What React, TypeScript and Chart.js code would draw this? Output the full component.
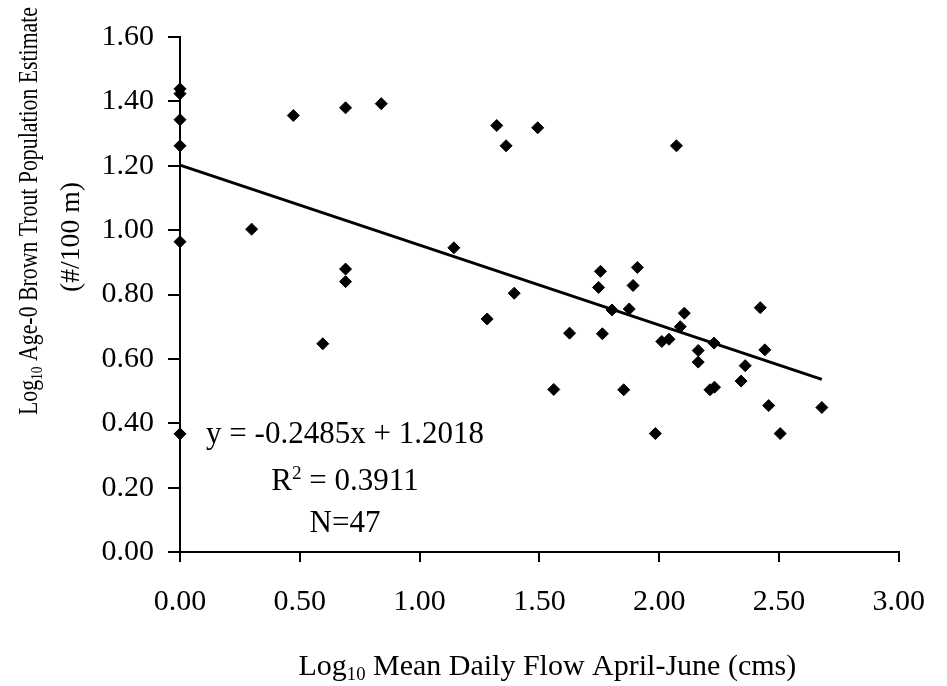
import React, { useEffect, useRef } from "react";
import { Chart, registerables } from "chart.js";

Chart.register(...registerables);

// ---- data (log10 values) ----
const flowLog = [
  0, 0, 0, 0, 0, 0, 0.299, 0.473, 0.596, 0.691, 0.691, 0.691, 0.84, 1.143,
  1.282, 1.322, 1.361, 1.395, 1.56, 1.493, 1.626, 1.747, 1.755, 1.763, 1.803,
  1.852, 1.875, 1.891, 1.909, 1.984, 2.011, 2.041, 2.072, 2.088, 2.105, 2.163,
  2.163, 2.212, 2.229, 2.231, 2.342, 2.359, 2.422, 2.441, 2.457, 2.505, 2.679,
];
const troutLog = [
  1.439, 1.424, 1.343, 1.262, 0.964, 0.367, 1.003, 1.356, 0.647, 1.38, 0.879,
  0.84, 1.393, 0.945, 0.724, 1.325, 1.262, 0.804, 0.505, 1.318, 0.68, 0.822,
  0.872, 0.678, 0.752, 0.504, 0.755, 0.828, 0.884, 0.368, 0.654, 0.661, 1.262,
  0.7, 0.742, 0.626, 0.59, 0.504, 0.649, 0.512, 0.531, 0.579, 0.759, 0.628,
  0.455, 0.368, 0.449,
];
const trendFlow = [0, 2.679];
const trendTrout = [1.2018, 0.5361];

const xRange = [0, 3];
const xStep = 0.5;
const yRange = [0, 1.6];
const yStep = 0.2;

// ---- text ----
const xTitleParts: [string, string][] = [
  ["Log", "n"],
  ["10", "sub"],
  [" Mean Daily Flow April-June (cms)", "n"],
];
const yTitleParts: [string, string][] = [
  ["Log", "n"],
  ["10", "sub"],
  [" Age-0 Brown Trout Population Estimate", "n"],
];
const yTitleLine2: [string, string][] = [["(#/100 m)", "n"]];
const equationParts: [string, string][] = [["y = -0.2485x + 1.2018", "n"]];
const rSquaredParts: [string, string][] = [
  ["R", "n"],
  ["2", "sup"],
  [" = 0.3911", "n"],
];
const countParts: [string, string][] = [["N=47", "n"]];

const FAMILY = "'Liberation Serif', 'Times New Roman', serif";
const TICK_SIZE = 30;

function partFont(kind: string, size: number) {
  const s = kind === "n" ? size : size * 0.62;
  return `${s}px ${FAMILY}`;
}
function partDy(kind: string, size: number) {
  if (kind === "sub") return size * 0.18;
  if (kind === "sup") return -size * 0.36;
  return 0;
}
function measureParts(ctx: CanvasRenderingContext2D, parts: [string, string][], size: number) {
  let total = 0;
  for (const [t, k] of parts) {
    ctx.font = partFont(k, size);
    total += ctx.measureText(t).width;
  }
  return total;
}
function drawParts(
  ctx: CanvasRenderingContext2D,
  parts: [string, string][],
  size: number,
  cx: number,
  baseline: number
) {
  const total = measureParts(ctx, parts, size);
  let x = cx - total / 2;
  ctx.textAlign = "left";
  ctx.textBaseline = "alphabetic";
  for (const [t, k] of parts) {
    ctx.font = partFont(k, size);
    ctx.fillText(t, x, baseline + partDy(k, size));
    x += ctx.measureText(t).width;
  }
}
function drawRotatedFit(
  ctx: CanvasRenderingContext2D,
  parts: [string, string][],
  size: number,
  baseX: number,
  centerY: number,
  targetLen: number
) {
  const natural = measureParts(ctx, parts, size);
  const sx = Math.min(1.1, targetLen / natural);
  ctx.save();
  ctx.translate(baseX, centerY);
  ctx.rotate(-Math.PI / 2);
  ctx.scale(sx, 1);
  drawParts(ctx, parts, size, 0, 0);
  ctx.restore();
}

const textPlugin = {
  id: "textPlugin",
  afterDraw(chart: any) {
    const ctx: CanvasRenderingContext2D = chart.ctx;
    const area = chart.chartArea;
    ctx.save();
    ctx.fillStyle = "#000";

    // x axis title
    drawParts(ctx, xTitleParts, 30, (area.left + area.right) / 2 + 8, 675);

    // y axis title (rotated, condensed as in the reference)
    drawRotatedFit(ctx, yTitleParts, 27, 37, 211, 408);
    drawRotatedFit(ctx, yTitleLine2, 27, 79, 237, 110);

    // regression annotation
    const ax = area.left + 165;
    drawParts(ctx, equationParts, 31, ax, 443);
    drawParts(ctx, rSquaredParts, 31, ax, 490);
    drawParts(ctx, countParts, 31, ax, 532);
    ctx.restore();
  },
};

export default function App() {
  const ref = useRef<HTMLCanvasElement | null>(null);

  useEffect(() => {
    if (!ref.current) return;
    const tickFont = { family: FAMILY, size: TICK_SIZE };
    const chart = new Chart(ref.current, {
      type: "scatter",
      data: {
        datasets: [
          {
            label: "Age-0 brown trout",
            data: flowLog.map((x, i) => ({ x, y: troutLog[i] })),
            pointStyle: "rectRot",
            pointRadius: 6,
            pointBackgroundColor: "#000",
            pointBorderColor: "#000",
            pointBorderWidth: 1,
            clip: false,
            order: 2,
          } as any,
          {
            label: "Linear fit",
            data: trendFlow.map((x, i) => ({ x, y: trendTrout[i] })),
            showLine: true,
            borderColor: "#000",
            borderWidth: 3,
            pointRadius: 0,
            clip: false,
            order: 1,
          } as any,
        ],
      },
      options: {
        responsive: false,
        animation: false,
        devicePixelRatio: 1,
        layout: { padding: { top: 37, right: 32, left: 0, bottom: 0 } },
        plugins: {
          legend: { display: false },
          tooltip: { enabled: false },
          title: { display: false },
        },
        scales: {
          x: {
            type: "linear",
            min: xRange[0],
            max: xRange[1],
            afterFit: (s: any) => {
              s.height = 134;
            },
            ticks: {
              stepSize: xStep,
              color: "#000",
              font: tickFont,
              padding: 22,
              maxRotation: 0,
              autoSkip: false,
              callback: (v: any) => Number(v).toFixed(2),
            },
            grid: {
              drawOnChartArea: false,
              drawTicks: true,
              tickLength: 10,
              color: "#000",
              lineWidth: 2,
            },
            border: { display: true, color: "#000", width: 2 },
          },
          y: {
            type: "linear",
            min: yRange[0],
            max: yRange[1],
            afterFit: (s: any) => {
              s.width = 180;
            },
            ticks: {
              stepSize: yStep,
              color: "#000",
              font: tickFont,
              padding: 14,
              autoSkip: false,
              callback: (v: any) => Number(v).toFixed(2),
            },
            grid: {
              drawOnChartArea: false,
              drawTicks: true,
              tickLength: 12,
              color: "#000",
              lineWidth: 2,
            },
            border: { display: true, color: "#000", width: 2 },
          },
        },
      } as any,
      plugins: [textPlugin],
    });
    return () => chart.destroy();
  }, []);

  return (
    <div
      style={{
        position: "fixed",
        left: 0,
        top: 0,
        width: 947,
        height: 686,
        background: "#fff",
      }}
    >
      <canvas ref={ref} width={947} height={686} style={{ width: 947, height: 686 }} />
    </div>
  );
}
